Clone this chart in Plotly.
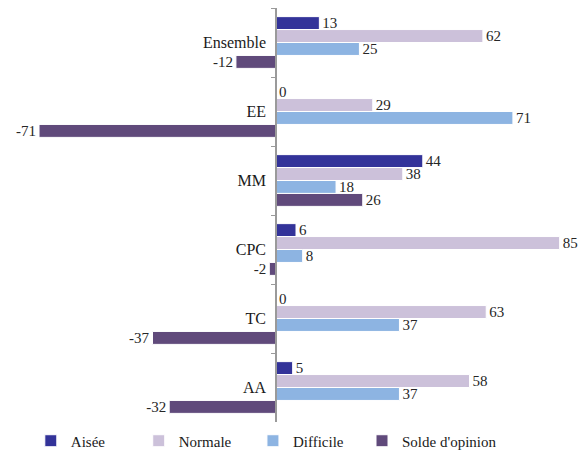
import plotly.graph_objects as go

# ─────────────────────────────────────────────
# Data
# ─────────────────────────────────────────────

categories = ["Ensemble", "EE", "MM", "CPC", "TC", "AA"]
aisee = [13, 0, 44, 6, 0, 5]
normale = [62, 29, 38, 85, 63, 58]
difficile = [25, 71, 18, 8, 37, 37]
solde = [-12, -71, 26, -2, -37, -32]

series = [
    ("Aisée", aisee, "#333399"),
    ("Normale", normale, "#ccc1da"),
    ("Difficile", difficile, "#8db4e2"),
    ("Solde d'opinion", solde, "#604a7b"),
]

FONT = "Liberation Serif"
X_MIN, X_MAX = -80, 92

# one legend per series so each entry sits where the original has it
LEGEND_IDS = ["legend", "legend2", "legend3", "legend4"]
LEGEND_X = [0.038, 0.226, 0.425, 0.615]

fig = go.Figure()
for (name, vals, color), lg in zip(series, LEGEND_IDS):
    fig.add_trace(go.Bar(
        x=vals,
        y=categories,
        orientation="h",
        name=name,
        legend=lg,
        marker=dict(color=color, line=dict(color="white", width=1)),
        text=[str(v) for v in vals],
        textposition="outside",
        constraintext="none",
        textfont=dict(family=FONT, size=15, color="#262626"),
        cliponaxis=False,
    ))

fig.update_xaxes(
    range=[X_MIN, X_MAX],
    showgrid=False, zeroline=False, showticklabels=False, showline=False,
    domain=[0, 1], automargin=False,
)
fig.update_yaxes(
    autorange="reversed",
    anchor="free",
    position=(0 - X_MIN) / (X_MAX - X_MIN),
    showline=True, linecolor="#9a9a9a", linewidth=1.5,
    ticks="outside", ticklen=4, tickcolor="#9a9a9a", tickson="boundaries",
    tickfont=dict(family=FONT, size=16, color="#1a1a1a"),
    ticklabelstandoff=6,
    showgrid=False, automargin=False,
)

fig.update_layout(
    width=586, height=456,
    barmode="group",
    bargap=0.25, bargroupgap=0,
    plot_bgcolor="white", paper_bgcolor="white",
    margin=dict(l=9, r=3, t=8, b=34, autoexpand=False),
    font=dict(family=FONT, size=15, color="#1a1a1a"),
    showlegend=True,
)

for lg, lx in zip(LEGEND_IDS, LEGEND_X):
    fig.update_layout({
        lg: go.layout.Legend(
            orientation="h",
            x=lx, xanchor="left",
            y=-0.006, yanchor="top",
            itemwidth=30,
            bgcolor="rgba(0,0,0,0)",
            font=go.layout.legend.Font(family=FONT, size=15, color="#1a1a1a"),
        )
    })

# the page body has a default 8px margin; drop it so the figure fills the window
fig.write_html(
    "out.html",
    config={"displayModeBar": False},
    post_script="document.body.style.margin='0px';",
)
